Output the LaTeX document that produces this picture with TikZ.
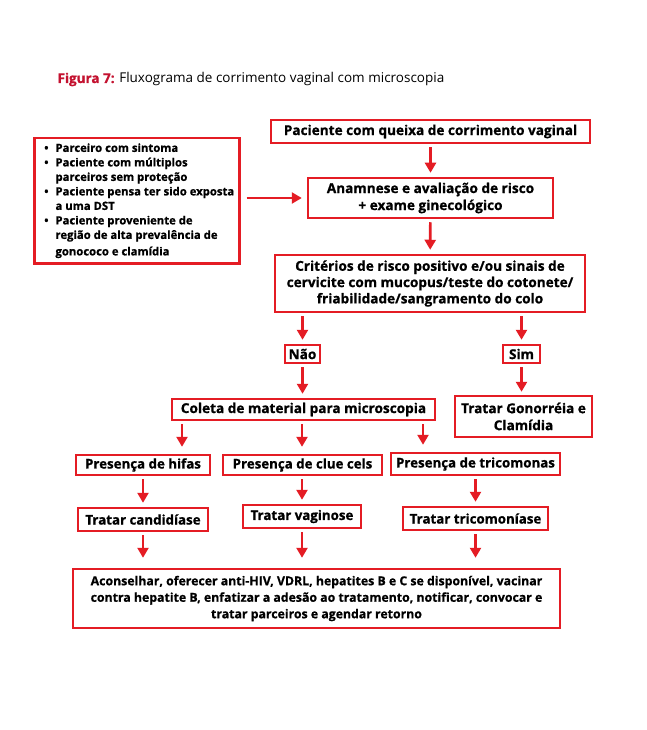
\documentclass[tikz,border=0pt]{standalone}
\usepackage{fontspec}
\setmainfont{Open Sans}[BoldFeatures={FakeBold=0.8}]
\usetikzlibrary{arrows.meta,calc}
\definecolor{boxred}{RGB}{228,28,36}
\definecolor{titlered}{RGB}{196,18,48}
\newcommand{\fsz}[2]{\fontsize{#1}{#2}\selectfont}
\begin{document}
\begin{tikzpicture}[x=1pt,y=-1pt,
  box/.style={draw=boxred,line width=2.5pt,inner sep=1pt,align=center,font=\bfseries\fsz{13.6}{17}},
  arr/.style={draw=boxred,line width=2.7pt,-{Triangle[width=11pt,length=10pt]},shorten <=3pt,shorten >=4pt}]
\useasboundingbox[fill=white] (0,0) rectangle (646,730);

\node[anchor=base west,font=\fsz{13.5}{16}] (title) at (54,83)
  {\textcolor{titlered}{\bfseries Figura 7:} Fluxograma de corrimento vaginal com microscopia};

\node[box,minimum width=319pt,minimum height=23pt] (top) at (430.5,131.5)
  {Paciente com queixa de corrimento vaginal};
\node[box,minimum width=245pt,minimum height=40pt] (anam) at (430.5,198)
  {Anamnese e avaliação de risco\\+ exame ginecológico};
\node[box,minimum width=310pt,minimum height=57pt,font=\bfseries\fsz{13.6}{16.3}] (crit) at (430,283.5)
  {Critérios de risco positivo e/ou sinais de\\cervicite com mucopus/teste do cotonete/\\friabilidade/sangramento do colo};
\node[box,minimum width=205pt,minimum height=125pt,align=left,anchor=north west,inner sep=0pt,font=\bfseries\fsz{11.3}{14.5}] (left) at (33,137)
  {\hspace{5pt}\begin{tabular}{@{}l@{\hspace{7pt}}l@{}}
   \textbullet & Parceiro com sintoma\\
   \textbullet & Paciente com múltiplos\\
               & parceiros sem proteção\\
   \textbullet & Paciente pensa ter sido exposta\\
               & a uma DST\\
   \textbullet & Paciente proveniente de\\
               & região de alta prevalência de\\[2pt]
               & gonococo e clamídia
   \end{tabular}};

\node[box,minimum width=35pt,minimum height=18pt] (nao) at (302.5,354) {Não};
\node[box,minimum width=37pt,minimum height=18pt] (sim) at (521.5,354) {Sim};
\node[box,minimum width=263pt,minimum height=21pt] (coleta) at (303.5,409.5) {Coleta de material para microscopia};
\node[box,minimum width=137pt,minimum height=41pt] (gono) at (523.5,416.5) {Tratar Gonorréia e\\Clamídia};

\node[box,minimum width=134pt,minimum height=20pt,font=\bfseries\fsz{13.3}{16}] (hifas) at (143,465) {Presença de hifas};
\node[box,minimum width=159pt,minimum height=20pt,font=\bfseries\fsz{13.3}{16}] (clue) at (302.5,465) {Presença de clue cels};
\node[box,minimum width=169pt,minimum height=22pt,font=\bfseries\fsz{13.3}{16}] (trico) at (475.5,464) {Presença de tricomonas};

\node[box,minimum width=130pt,minimum height=23pt,font=\bfseries\fsz{13.3}{16}] (cand) at (143,519.5) {Tratar candidíase};
\node[box,minimum width=118pt,minimum height=23pt,font=\bfseries\fsz{13.3}{16}] (vag) at (302,516.5) {Tratar vaginose};
\node[box,minimum width=145pt,minimum height=23pt,font=\bfseries\fsz{13.3}{16}] (tricot) at (475.5,518.5) {Tratar tricomoníase};

\node[box,minimum width=487pt,minimum height=59pt,font=\bfseries\fsz{12.3}{16.5}] (final) at (316.5,598.5)
  {Aconselhar, oferecer anti-HIV, VDRL, hepatites B e C se disponível, vacinar\\
   contra hepatite B, enfatizar a adesão ao tratamento, notificar, convocar e\\
   tratar parceiros e agendar retorno};

\coordinate (k1) at (182,0);
\coordinate (k2) at (302,0);
\coordinate (k3) at (423,0);

\draw[arr] (top) -- (anam);
\draw[arr] (anam) -- (crit);
\draw[arr,shorten <=6pt,shorten >=5pt] (left.east |- anam.west) -- (anam.west);
\draw[arr] (crit.south -| nao.north) -- (nao.north);
\draw[arr] (crit.south -| sim.north) -- (sim.north);
\draw[arr] (nao.south) -- (nao.south |- coleta.north);
\draw[arr,shorten >=3pt] (sim.south) -- (sim.south |- gono.north);
\draw[arr,shorten >=7pt] (coleta.south -| k1) -- (hifas.north -| k1);
\draw[arr,shorten >=7pt] (coleta.south -| k2) -- (clue.north -| k2);
\draw[arr,shorten >=7pt] (coleta.south -| k3) -- (trico.north -| k3);
\draw[arr] (hifas) -- (cand);
\draw[arr] (clue.south -| vag.north) -- (vag.north);
\draw[arr] (trico.south -| tricot.north) -- (tricot.north);
\draw[arr,shorten >=10pt] (cand.south) -- (cand.south |- final.north);
\draw[arr,shorten >=10pt] (vag.south) -- (vag.south |- final.north);
\draw[arr,shorten >=10pt] (tricot.south) -- (tricot.south |- final.north);
\end{tikzpicture}
\end{document}
